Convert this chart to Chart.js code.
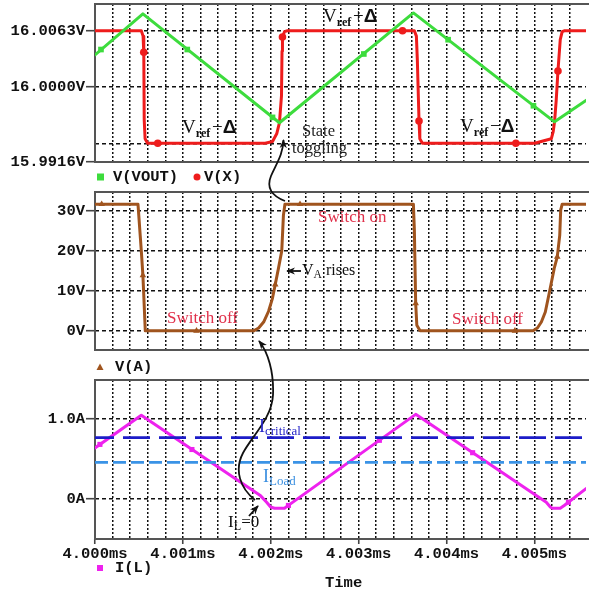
<!DOCTYPE html>
<html><head><meta charset="utf-8">
<script src="https://cdn.jsdelivr.net/npm/chart.js@4.4.1/dist/chart.umd.min.js"></script>
<style>
html,body{margin:0;padding:0;background:#fff;}
#wrap{position:relative;width:590px;height:590px;overflow:hidden;background:#fff;}
canvas{position:absolute;left:0;}
svg{position:absolute;left:0;top:0;}
.t{position:absolute;white-space:nowrap;line-height:1;font-family:"Liberation Serif","Times New Roman",serif;}
.m{position:absolute;white-space:nowrap;line-height:1;font-family:"Liberation Mono","Courier New",monospace;font-weight:bold;font-size:15.5px;color:#111;}
.sb{font-size:0.64em;font-weight:bold;position:relative;top:0.35em;}
.sn{font-size:0.72em;position:relative;top:0.3em;}
.d{font-family:"Liberation Sans",Arial,sans-serif;font-weight:bold;}
</style></head>
<body><div id="wrap">
<canvas id="c1" width="590" height="185" style="top:0px"></canvas>
<canvas id="c2" width="590" height="190" style="top:185px"></canvas>
<canvas id="c3" width="590" height="215" style="top:375px"></canvas>
<svg width="590" height="590" viewBox="0 0 590 590">
  <defs>
    <marker id="ah" viewBox="0 0 10 10" refX="9" refY="5" markerUnits="userSpaceOnUse" markerWidth="9" markerHeight="9" orient="auto">
      <path d="M0,1 L10,5 L0,9 L3,5 z" fill="#111"/>
    </marker>
  </defs>
  <path d="M285 201 C272 196, 266 188, 271 176 C276 164, 283 155, 283.5 140" fill="none" stroke="#111" stroke-width="1.8" marker-end="url(#ah)"/>
  <path d="M255 500 C240 488, 234 470, 243 453 C252 436, 272 418, 273 395 C274 372, 268 352, 259 341" fill="none" stroke="#111" stroke-width="1.8" marker-end="url(#ah)"/>
  <path d="M249 516 L258 506" fill="none" stroke="#111" stroke-width="1.8" marker-end="url(#ah)"/>
  <path d="M301 271 L287 271" fill="none" stroke="#111" stroke-width="1.8" marker-end="url(#ah)"/>
  <rect x="97" y="173.5" width="7" height="7" fill="#3ddc3d"/>
  <circle cx="197" cy="177" r="3.5" fill="#ee1c1c"/>
  <polygon points="96.5,370 100,363.5 103.5,370" fill="#a0541e"/>
  <rect x="97" y="565" width="6" height="6" fill="#ee22ee"/>
</svg>
<div class="t" style="left:323px;top:6px;font-size:19px;color:#111">V<span class="sb">ref</span>&#8202;+<span class="d">&#916;</span></div>
<div class="t" style="left:182px;top:117px;font-size:19px;color:#111">V<span class="sb">ref</span>&#8202;&#8722;<span class="d">&#916;</span></div>
<div class="t" style="left:460px;top:115.5px;font-size:19px;color:#111">V<span class="sb">ref</span>&#8202;&#8722;<span class="d">&#916;</span></div>
<div class="t" style="left:302px;top:123px;font-size:16.5px;color:#222">State</div>
<div class="t" style="left:292px;top:139.5px;font-size:16.5px;color:#222">toggling</div>
<div class="t" style="left:318px;top:207.5px;font-size:17px;color:#e0304a">Switch on</div>
<div class="t" style="left:167px;top:309px;font-size:17px;color:#e0304a">Switch off</div>
<div class="t" style="left:452px;top:310px;font-size:17px;color:#e0304a">Switch off</div>
<div class="t" style="left:302px;top:262px;font-size:16px;color:#111">V<span class="sn">A</span> rises</div>
<div class="t" style="left:259px;top:416.5px;font-size:18px;color:#2525c8">I<span class="sn">critical</span></div>
<div class="t" style="left:263px;top:466.5px;font-size:18px;color:#3a8fe0">I<span class="sn">Load</span></div>
<div class="t" style="left:228px;top:512.5px;font-size:17px;color:#111">I<span class="sn">L</span>=0</div>
<div class="m" style="left:113px;top:169.6px">V(VOUT)</div>
<div class="m" style="left:204px;top:169.6px">V(X)</div>
<div class="m" style="left:115px;top:359.6px">V(A)</div>
<div class="m" style="left:115px;top:560.6px">I(L)</div>
<div class="m" style="left:325px;top:575.6px">Time</div>
</div>
<script>
// ---- time axis (ms) ----
const X_MIN = 4.000, X_MAX = 4.005587;
const xTickValues = [4.000, 4.001, 4.002, 4.003, 4.004, 4.005];
const xTickLabels = ['4.000ms','4.001ms','4.002ms','4.003ms','4.004ms','4.005ms'];
const xGridStep = 0.0002;

// ---- panel 1: V(VOUT), V(X) ----
const vTickValues = [16.0063, 16.0000, 15.9937, 15.9916];
const vTickLabels = ['16.0063V','16.0000V','','15.9916V'];
const V_MIN = 15.9916, V_MAX = 16.0093;
const voutT = [4.000000, 4.000545, 4.002099, 4.003623, 4.005229, 4.005587];
const voutV = [16.0036, 16.0082, 15.9960, 16.0083, 15.9961, 15.9985];
const voutMarkT = [4.000068, 4.001050, 4.002020, 4.003059, 4.004018, 4.004989];
const voutMarkV = [16.0042, 16.0042, 15.9966, 16.0037, 16.0053, 15.9979];
const vxT = [4.000000, 4.000527, 4.000547, 4.000555, 4.000560, 4.000570, 4.000598, 4.001938, 4.002020, 4.002069, 4.002099, 4.002122, 4.002128, 4.002133, 4.002156, 4.002190, 4.003634, 4.003657, 4.003668, 4.003687, 4.003696, 4.003725, 4.005003, 4.005192, 4.005214, 4.005229, 4.005248, 4.005268, 4.005294, 4.005316, 4.005339, 4.005587];
const vxV = [16.0063, 16.0063, 16.0057, 16.0039, 15.9963, 15.9942, 15.9937, 15.9937, 15.9939, 15.9948, 15.9960, 15.9990, 16.0040, 16.0056, 16.0062, 16.0063, 16.0063, 16.0057, 16.0030, 15.9962, 15.9942, 15.9937, 15.9937, 15.9942, 15.9950, 15.9961, 15.9985, 16.0018, 16.0053, 16.0062, 16.0063, 16.0063];
const vxMarkT = [4.000555, 4.000714, 4.002133, 4.003499, 4.003687, 4.004789, 4.005268];
const vxMarkV = [16.0039, 15.9937, 16.0056, 16.0063, 15.9962, 15.9937, 16.0018];

// ---- panel 2: V(A) ----
const aTickValues = [30, 20, 10, 0];
const aTickLabels = ['30V','20V','10V','0V'];
const A_MIN = -4.8, A_MAX = 34.75;
const vaT = [4.000000, 4.000489, 4.000527, 4.000545, 4.000553, 4.000572, 4.001806, 4.001862, 4.001919, 4.001975, 4.002020, 4.002051, 4.002088, 4.002125, 4.002144, 4.002161, 4.003623, 4.003634, 4.003649, 4.003662, 4.003699, 4.004985, 4.005034, 4.005079, 4.005124, 4.005173, 4.005226, 4.005260, 4.005288, 4.005299, 4.005316, 4.005587];
const vaV = [31.7, 31.7, 20, 13.9, 9.9, 0, 0, 0.7, 2.2, 4.9, 8.2, 11.6, 15.7, 20, 28.9, 31.7, 31.7, 25.2, 6.9, 1.4, 0, 0, 0.7, 2.2, 4.7, 9.9, 15.7, 18.5, 23.9, 30.2, 31.7, 31.7];
const vaMarkT = [4.000076, 4.000545, 4.001155, 4.002051, 4.002333, 4.003649, 4.004778, 4.005260];
const vaMarkV = [31.7, 13.9, 0, 11.6, 31.7, 6.9, 0, 18.5];

// ---- panel 3: I(L) ----
const iTickValues = [1.0, 0];
const iTickLabels = ['1.0A','0A'];
const I_MIN = -0.5, I_MAX = 1.49;
const ilT = [4.000000, 4.000527, 4.001885, 4.001953, 4.001998, 4.002043, 4.002156, 4.002212, 4.003649, 4.005135, 4.005181, 4.005203, 4.005294, 4.005339, 4.005587];
const ilV = [0.64, 1.05, 0.04, -0.04, -0.10, -0.115, -0.115, -0.07, 1.06, -0.04, -0.10, -0.115, -0.115, -0.08, 0.13];
const ilMarkT = [4.000056, 4.001103, 4.002201, 4.003236, 4.004297, 4.005387];
const ilMarkV = [0.684, 0.62, -0.08, 0.735, 0.58, -0.04];
const iCritical = 0.77;
const iLoad = 0.46;

// ---- helpers ----
const zip = (t, v) => t.map((x, i) => ({x, y: v[i]}));
const xLabelFor = v => { const k = xTickValues.findIndex(tv => Math.abs(tv - v) < 1e-8); return k >= 0 ? xTickLabels[k] : ''; };
const gridXs = []; for (let i = 0; X_MIN + i * xGridStep <= X_MAX + 1e-9; i++) gridXs.push(X_MIN + i * xGridStep);
const tickFont = {family: '"Liberation Mono","Courier New",monospace', weight: 'bold', size: 15.5};

const frame = {
  id: 'frame',
  beforeDatasetsDraw(c) {
    const {ctx, chartArea: a} = c;
    ctx.save(); ctx.strokeStyle = '#555'; ctx.lineWidth = 2;
    ctx.beginPath(); ctx.moveTo(a.right + 3, a.top); ctx.lineTo(a.left, a.top); ctx.lineTo(a.left, a.bottom); ctx.lineTo(a.right + 3, a.bottom); ctx.stroke();
    ctx.restore();
  }
};

function lineDs(t, v, color) {
  return {data: zip(t, v), borderColor: color, backgroundColor: color, borderWidth: 3, pointRadius: 0, tension: 0, borderJoinStyle: 'round', borderCapStyle: 'round'};
}
function markDs(t, v, color, style, r) {
  return {data: zip(t, v), showLine: false, pointStyle: style, pointRadius: r, pointBackgroundColor: color, pointBorderColor: color, pointBorderWidth: 0};
}

function makeChart(id, datasets, yMin, yMax, yVals, yLabels, pad, showX) {
  return new Chart(document.getElementById(id), {
    type: 'line',
    data: {datasets},
    options: {
      responsive: false, animation: false, devicePixelRatio: 1,
      layout: {padding: {top: pad[0], bottom: pad[1], left: 0, right: 0}},
      plugins: {legend: {display: false}, tooltip: {enabled: false}},
      scales: {
        x: {
          type: 'linear', min: X_MIN, max: X_MAX,
          afterFit: s => { s.height = showX ? 30 : 0; s.paddingLeft = 0; s.paddingRight = 0; },
          afterBuildTicks: s => { s.ticks = gridXs.map(v => ({value: v})); },
          ticks: {display: showX, autoSkip: false, maxRotation: 0, padding: 1, font: tickFont, color: '#111',
                  callback: v => xLabelFor(v)},
          grid: {color: '#111', lineWidth: 1.5, drawTicks: showX, tickLength: 5, tickWidth: 1.6,
                 tickColor: ctx => (ctx.tick && xLabelFor(ctx.tick.value)) ? '#444' : 'rgba(0,0,0,0)'},
          border: {display: false, dash: [2, 2]}
        },
        y: {
          type: 'linear', min: yMin, max: yMax,
          afterFit: s => { s.width = 95; s.paddingTop = 0; s.paddingBottom = 0; },
          afterBuildTicks: s => { s.ticks = yVals.map(v => ({value: v})); },
          ticks: {autoSkip: false, padding: 1, font: tickFont, color: '#111', callback: (v, i) => yLabels[i]},
          grid: {color: '#111', lineWidth: 1.4, tickLength: 9, tickWidth: 1.6,
                 tickColor: ctx => yLabels[ctx.index] ? '#444' : 'rgba(0,0,0,0)'},
          border: {display: false, dash: [4, 3]}
        }
      }
    },
    plugins: [frame]
  });
}

const GREEN = '#3ddc3d', RED = '#ee1c1c', BROWN = '#a0541e', MAG = '#ee22ee';

makeChart('c1', [
  lineDs(voutT, voutV, GREEN),
  lineDs(vxT, vxV, RED),
  markDs(voutMarkT, voutMarkV, GREEN, 'rect', 4),
  markDs(vxMarkT, vxMarkV, RED, 'circle', 3.8)
], V_MIN, V_MAX, vTickValues, vTickLabels, [4, 23], false);

makeChart('c2', [
  lineDs(vaT, vaV, BROWN),
  markDs(vaMarkT, vaMarkV, BROWN, 'triangle', 3.8)
], A_MIN, A_MAX, aTickValues, aTickLabels, [7, 25], false);

makeChart('c3', [
  Object.assign(lineDs([X_MIN, X_MAX], [iCritical, iCritical], '#1c1cc8'), {borderWidth: 2.8, borderDash: [27, 9], borderDashOffset: 8, borderCapStyle: 'butt'}),
  Object.assign(lineDs([X_MIN, X_MAX], [iLoad, iLoad], '#3a93e6'), {borderWidth: 2.8, borderDash: [13, 5], borderDashOffset: 0, borderCapStyle: 'butt'}),
  lineDs(ilT, ilV, MAG),
  markDs(ilMarkT, ilMarkV, MAG, 'rect', 3.6)
], I_MIN, I_MAX, iTickValues, iTickLabels, [5, 21], true);
</script>
</body></html>
